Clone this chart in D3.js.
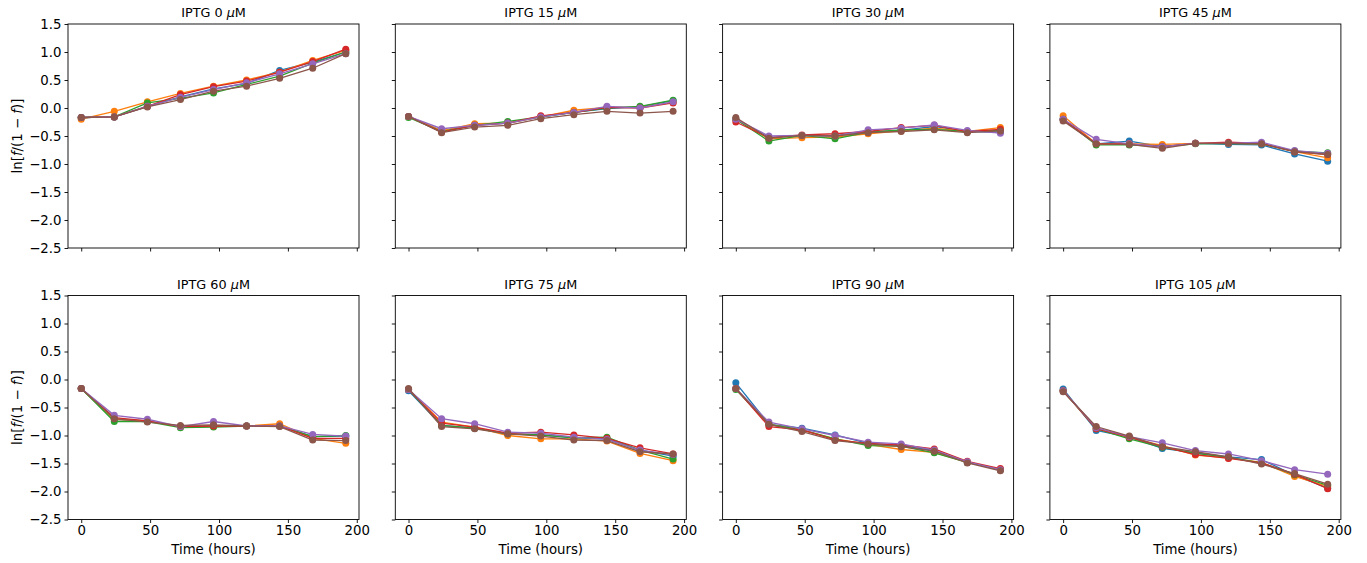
<!DOCTYPE html>
<html>
<head>
<meta charset="utf-8">
<script src="https://cdn.jsdelivr.net/npm/d3@7"></script>
<style>
  body { margin: 0; background: #fff; }
  svg { display: block; font-family: "DejaVu Sans", sans-serif; }
</style>
</head>
<body>
<svg id="chart" width="1367" height="563"></svg>
<script>
// Sampling times (hours)
const times = [0, 24, 48, 72, 96, 120, 144, 168, 192];
// IPTG concentrations, one panel each
const concentrations = [0, 15, 30, 45, 60, 75, 90, 105];
// Replicate colours
const colors = ["#1f77b4", "#ff7f0e", "#2ca02c", "#d62728", "#9467bd", "#8c564b"];
const xTicks = [0, 50, 100, 150, 200];
const yTicks = [-2.5, -2.0, -1.5, -1.0, -0.5, 0.0, 0.5, 1.0, 1.5];

// ln[f/(1-f)] per replicate (blue, orange, green, red, purple, brown)
const iptg0 = [
  [-0.17, -0.16, 0.03, 0.20, 0.34, 0.44, 0.67, 0.82, 1.00],
  [-0.20, -0.06, 0.11, 0.26, 0.39, 0.50, 0.64, 0.85, 1.03],
  [-0.17, -0.16, 0.09, 0.17, 0.27, 0.42, 0.57, 0.80, 1.00],
  [-0.17, -0.16, 0.03, 0.24, 0.38, 0.48, 0.64, 0.83, 1.05],
  [-0.17, -0.16, 0.03, 0.19, 0.33, 0.45, 0.61, 0.79, 0.97],
  [-0.17, -0.16, 0.02, 0.15, 0.30, 0.39, 0.53, 0.71, 0.97]
];
const iptg15 = [
  [-0.15, -0.41, -0.31, -0.27, -0.16, -0.08, -0.01, 0.02, 0.13],
  [-0.15, -0.41, -0.28, -0.27, -0.16, -0.04, 0.01, 0.01, 0.10],
  [-0.17, -0.42, -0.31, -0.24, -0.16, -0.08, 0.00, 0.03, 0.14],
  [-0.15, -0.43, -0.31, -0.27, -0.14, -0.08, 0.01, 0.00, 0.09],
  [-0.15, -0.37, -0.31, -0.27, -0.16, -0.08, 0.03, 0.00, 0.11],
  [-0.15, -0.44, -0.34, -0.31, -0.19, -0.12, -0.06, -0.09, -0.06]
];
const iptg30 = [
  [-0.20, -0.53, -0.49, -0.50, -0.43, -0.40, -0.33, -0.42, -0.43],
  [-0.20, -0.55, -0.53, -0.52, -0.46, -0.41, -0.36, -0.42, -0.35],
  [-0.20, -0.59, -0.49, -0.55, -0.43, -0.39, -0.38, -0.42, -0.40],
  [-0.25, -0.53, -0.48, -0.46, -0.42, -0.35, -0.31, -0.42, -0.38],
  [-0.20, -0.50, -0.49, -0.50, -0.39, -0.36, -0.30, -0.40, -0.45],
  [-0.17, -0.54, -0.49, -0.50, -0.44, -0.42, -0.39, -0.44, -0.41]
];
const iptg45 = [
  [-0.20, -0.64, -0.59, -0.69, -0.63, -0.65, -0.66, -0.82, -0.95],
  [-0.14, -0.64, -0.64, -0.65, -0.63, -0.63, -0.64, -0.78, -0.89],
  [-0.20, -0.66, -0.66, -0.69, -0.64, -0.63, -0.64, -0.77, -0.80],
  [-0.20, -0.64, -0.64, -0.69, -0.63, -0.61, -0.63, -0.78, -0.83],
  [-0.20, -0.56, -0.64, -0.69, -0.63, -0.63, -0.61, -0.76, -0.81],
  [-0.23, -0.64, -0.65, -0.72, -0.63, -0.63, -0.64, -0.78, -0.83]
];
const iptg60 = [
  [-0.16, -0.71, -0.74, -0.84, -0.83, -0.83, -0.83, -1.02, -1.01],
  [-0.16, -0.71, -0.74, -0.84, -0.83, -0.83, -0.79, -1.05, -1.14],
  [-0.16, -0.75, -0.75, -0.86, -0.85, -0.83, -0.83, -1.02, -1.00],
  [-0.16, -0.68, -0.74, -0.84, -0.83, -0.83, -0.83, -1.05, -1.05],
  [-0.16, -0.64, -0.71, -0.84, -0.75, -0.83, -0.83, -0.98, -1.01],
  [-0.16, -0.70, -0.76, -0.82, -0.81, -0.83, -0.84, -1.08, -1.09]
];
const iptg75 = [
  [-0.20, -0.82, -0.87, -0.97, -0.99, -1.04, -1.06, -1.26, -1.37],
  [-0.18, -0.76, -0.85, -1.00, -1.06, -1.06, -1.10, -1.32, -1.45],
  [-0.18, -0.82, -0.87, -0.97, -0.99, -1.04, -1.03, -1.26, -1.42],
  [-0.18, -0.78, -0.85, -0.96, -0.94, -0.99, -1.05, -1.22, -1.33],
  [-0.18, -0.70, -0.79, -0.94, -0.96, -1.03, -1.07, -1.26, -1.34],
  [-0.16, -0.84, -0.88, -0.97, -1.01, -1.08, -1.09, -1.29, -1.33]
];
const iptg90 = [
  [-0.06, -0.80, -0.87, -0.99, -1.14, -1.18, -1.27, -1.48, -1.61],
  [-0.16, -0.80, -0.90, -1.06, -1.16, -1.25, -1.30, -1.48, -1.61],
  [-0.18, -0.80, -0.90, -1.06, -1.18, -1.19, -1.31, -1.48, -1.61],
  [-0.16, -0.84, -0.90, -1.08, -1.14, -1.17, -1.24, -1.46, -1.59],
  [-0.16, -0.76, -0.88, -1.00, -1.12, -1.15, -1.26, -1.47, -1.61],
  [-0.16, -0.80, -0.93, -1.09, -1.15, -1.20, -1.28, -1.49, -1.63]
];
const iptg105 = [
  [-0.17, -0.91, -1.03, -1.23, -1.31, -1.38, -1.43, -1.71, -1.94],
  [-0.20, -0.88, -1.03, -1.18, -1.35, -1.40, -1.48, -1.73, -1.91],
  [-0.20, -0.88, -1.06, -1.21, -1.32, -1.39, -1.49, -1.70, -1.89],
  [-0.20, -0.88, -1.03, -1.20, -1.34, -1.41, -1.49, -1.69, -1.95],
  [-0.20, -0.86, -1.02, -1.13, -1.27, -1.33, -1.45, -1.61, -1.69],
  [-0.22, -0.84, -1.01, -1.20, -1.29, -1.38, -1.51, -1.68, -1.87]
];
const panels = [iptg0, iptg15, iptg30, iptg45, iptg60, iptg75, iptg90, iptg105];

// Grid geometry
const left0 = 68, top0 = 24;
const pw = 291, ph = 224;
const colStep = 327.3, rowStep = 271.5;

const svg = d3.select("#chart");
const x = d3.scaleLinear().domain([-9.6, 201.6]).range([0, pw]);
const y = d3.scaleLinear().domain([-2.5, 1.5]).range([ph, 0]);
const fmt = d3.format(".1f");
const line = d3.line().x((d, i) => x(times[i])).y(d => y(d));

panels.forEach((series, p) => {
  const col = p % 4, row = Math.floor(p / 4);
  const g = svg.append("g")
    .attr("transform", `translate(${left0 + col * colStep},${top0 + row * rowStep})`);

  // Replicate curves: line then markers, one replicate at a time
  const plot = g.append("g");
  series.forEach((vals, s) => {
    const sg = plot.append("g");
    sg.append("path")
      .attr("d", line(vals))
      .attr("fill", "none")
      .attr("stroke", colors[s])
      .attr("stroke-width", 1.3);
    sg.selectAll("circle").data(vals).join("circle")
      .attr("cx", (d, i) => x(times[i]))
      .attr("cy", d => y(d))
      .attr("r", 3.5)
      .attr("fill", colors[s]);
  });

  // Axes (shared: labels only on the outer panels)
  const xAxis = d3.axisBottom(x).tickValues(xTicks).tickSize(3.5).tickPadding(3)
    .tickFormat(row === 1 ? d3.format("d") : () => "");
  const yAxis = d3.axisLeft(y).tickValues(yTicks).tickSize(3.5).tickPadding(3)
    .tickFormat(col === 0 ? fmt : () => "");

  const gx = g.append("g").attr("transform", `translate(0,${ph})`).call(xAxis);
  const gy = g.append("g").call(yAxis);
  [gx, gy].forEach(a => {
    a.select(".domain").remove();
    a.selectAll("line").attr("stroke", "#000").attr("stroke-width", 0.9);
    a.selectAll("text").attr("fill", "#000").attr("font-size", 13.3)
      .attr("font-family", "DejaVu Sans");
  });

  // Frame
  g.append("rect").attr("width", pw).attr("height", ph)
    .attr("fill", "none").attr("stroke", "#000").attr("stroke-width", 0.9);

  // Title
  const t = g.append("text").attr("x", pw / 2).attr("y", -7)
    .attr("text-anchor", "middle").attr("font-size", 12.8).attr("fill", "#000");
  t.append("tspan").text(`IPTG ${concentrations[p]} `);
  t.append("tspan").attr("font-style", "italic").text("μ");
  t.append("tspan").text("M");

  if (row === 1) {
    g.append("text").attr("x", pw / 2).attr("y", ph + 34)
      .attr("text-anchor", "middle").attr("font-size", 13.3).attr("fill", "#000")
      .text("Time (hours)");
  }
  if (col === 0) {
    const yl = g.append("text")
      .attr("transform", `translate(-46,${ph / 2}) rotate(-90)`)
      .attr("text-anchor", "middle").attr("font-size", 13.3).attr("fill", "#000");
    yl.append("tspan").text("ln[");
    yl.append("tspan").attr("font-style", "italic").text("f");
    yl.append("tspan").text("/(1 − ");
    yl.append("tspan").attr("font-style", "italic").text("f");
    yl.append("tspan").text(")]");
  }
});
</script>
</body>
</html>
